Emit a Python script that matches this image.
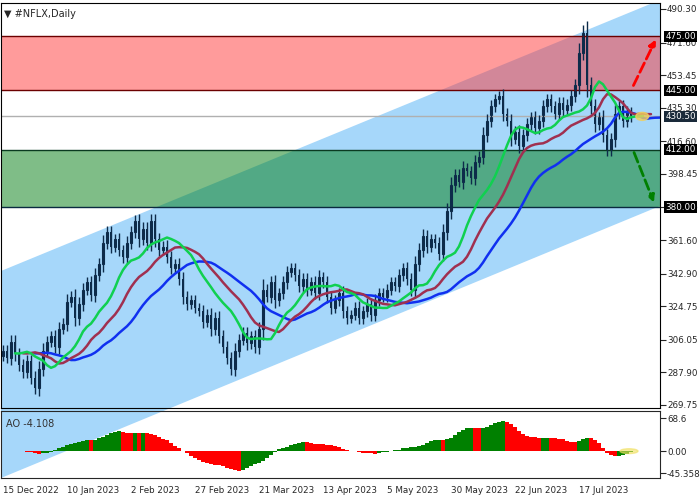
import numpy as np, pandas as pd, matplotlib
matplotlib.use("Agg")
import matplotlib.pyplot as plt, seaborn as sns
from matplotlib.patches import Polygon, Ellipse

sns.set_style("white")
plt.rcParams['font.family'] = ['DejaVu Sans']

closes = [300,296,305,298,292,288,294,285, 279,290,300,305,308,302,312,315,
 327,330,318,326,334,338,331,342, 348,360,366,358,362,356,352,360,
 366,372,362,368,360,372,362,356, 358,352,346,348,340,330,326,328,
 324,322,316,320,312,318,308,302, 296,290,300,306,310,304,308,302,
 312,334,330,338,328,332,338,344, 346,342,336,340,334,338,332,341,
 338,330,324,328,332,322,318,320, 324,318,322,326,320,328,332,330,
 334,338,336,342,346,340,334,348, 356,364,358,362,360,354,366,378,
 392,398,394,402,400,396,405,408, 420,428,436,440,442,432,428,418,
 422,414,420,426,430,424,428,436, 440,436,432,438,434,437,442,448,
 466,477,448,436,426,430,420,412, 418,432,436,428,433,430.5]
date_labels = ["15 Dec 2022","10 Jan 2023","2 Feb 2023","27 Feb 2023","21 Mar 2023",
 "13 Apr 2023","5 May 2023","30 May 2023","22 Jun 2023","17 Jul 2023"]
date_idx = [0,16,32,48,64,80,96,112,128,144]
price_ticks = [490.30,471.60,453.45,435.30,416.60,398.45,380.00,361.60,342.90,324.75,306.05,287.90,269.75]
levels = [475.0,445.0,412.0,380.0]
current = 430.5

c = np.array(closes, float); n = len(c)
o = np.r_[c[0]-3, c[:-1]]
hi = np.maximum(o, c) + 2.5 + 0.15*np.abs(c-o)
lo = np.minimum(o, c) - 2.5 - 0.15*np.abs(c-o)
med = pd.Series((hi+lo)/2)
def smma(p, sh):
    s = med.ewm(alpha=1/p, adjust=False).mean().values
    return np.arange(n)+sh, s
jx, jy = smma(13, 8); tx, ty = smma(8, 5); lx, ly = smma(5, 3)
ao = (med.rolling(5, min_periods=1).mean() - med.rolling(34, min_periods=1).mean()).values

fig = plt.figure(figsize=(7,5), dpi=100)
W,H = 700,500
bg = fig.add_axes([1/W, (H-478)/H, 659/W, 475/H], zorder=0)
bg.set_xlim(1,660); bg.set_ylim(478,3); bg.axis('off')
bg.add_patch(Polygon([(1,271),(660,0),(660,206),(1,478)], closed=True, color='#a6d7fa', lw=0))

FS = 6.3
ax = fig.add_axes([1/W, (H-408)/H, 659/W, 405/H], zorder=1)
ax.set_facecolor('none')
x0 = -0.5; x1 = x0 + 659/4
ax.set_xlim(x0, x1)
ax.set_ylim(490.3-(408-9)*0.557, 490.3+6*0.557)
ax.axhspan(445,475, color=(1,0.224,0.224), alpha=0.5, lw=0)
ax.axhspan(380,412, color=(0,0.49,0.067), alpha=0.5, lw=0)
for lv, col in zip(levels, ['#6b0000','#6b0000','#0a3a20','#0a2a40']):
    ax.axhline(lv, color=col, lw=1)
ax.axhline(current, color='#b0b0b0', lw=1)
dark = '#0d2b4a'
ax.vlines(np.arange(n), lo, hi, color=dark, lw=1)
up = c >= o
ax.bar(np.arange(n)[up], (c-o)[up], bottom=o[up], width=0.55, facecolor='white', edgecolor=dark, lw=0.8)
ax.bar(np.arange(n)[~up], (o-c)[~up], bottom=c[~up], width=0.55, color=dark, lw=0)
sns.lineplot(x=jx, y=jy, ax=ax, color='#1030f0', lw=1.8)
sns.lineplot(x=tx, y=ty, ax=ax, color='#a03050', lw=1.8)
sns.lineplot(x=lx, y=ly, ax=ax, color='#10d050', lw=1.8)
ax.add_patch(Ellipse((n+1.8, current), 3.2, 4.5, color='#f0d060', alpha=0.8, zorder=5))
ax.annotate('', xy=(163.5,474.7), xytext=(157.3,446.3), arrowprops=dict(arrowstyle='-|>', ls='--', color='red', lw=2))
ax.annotate('', xy=(163,381.1), xytext=(157.5,411.8), arrowprops=dict(arrowstyle='-|>', ls='--', color='green', lw=2))
ax.yaxis.tick_right()
ax.set_yticks(price_ticks); ax.set_yticklabels([f"{t:.2f}" for t in price_ticks])
ax.tick_params(axis='y', direction='out', length=4, labelsize=FS, pad=1)
ax.set_xticks([])
for lv in levels + [current]:
    fc = '#1a2a3a' if lv == current else 'black'
    ax.text(1.008, lv, f"{lv:.2f}", transform=ax.get_yaxis_transform(), va='center', ha='left', fontsize=FS,
            color='white', bbox=dict(boxstyle='square,pad=0.15', fc=fc, ec='none'), zorder=6)
ax.text(0.005, 0.985, "\u25BC #NFLX,Daily", transform=ax.transAxes, fontsize=7, va='top')
for s in ax.spines.values(): s.set_color('black')

a2 = fig.add_axes([1/W, (H-478)/H, 659/W, 67/H], zorder=1)
a2.set_facecolor('none')
a2.set_xlim(x0, x1)
a2.set_ylim(68.6-(478-418)*2.07, 68.6+7*2.07)
cols = ['green' if i>0 and ao[i]>ao[i-1] else 'red' for i in range(n)]
a2.bar(np.arange(n), ao, width=0.8, color=cols, lw=0)
a2.add_patch(Ellipse((n-1.5, 0), 4.5, 10, color='#f0e060', alpha=0.6, zorder=5))
a2.yaxis.tick_right()
a2.set_yticks([68.6, 0.0, -45.358]); a2.set_yticklabels(["68.6","0.00","-45.358"])
a2.tick_params(axis='y', direction='out', length=4, labelsize=FS, pad=1)
a2.set_xticks(date_idx); a2.set_xticklabels(date_labels, fontsize=FS, ha='left')
a2.tick_params(axis='x', direction='out', length=4, pad=2)
a2.text(0.008, 0.88, "AO -4.108", transform=a2.transAxes, fontsize=7, va='top', color='#333333')
fig.savefig("out.png", dpi=100)
